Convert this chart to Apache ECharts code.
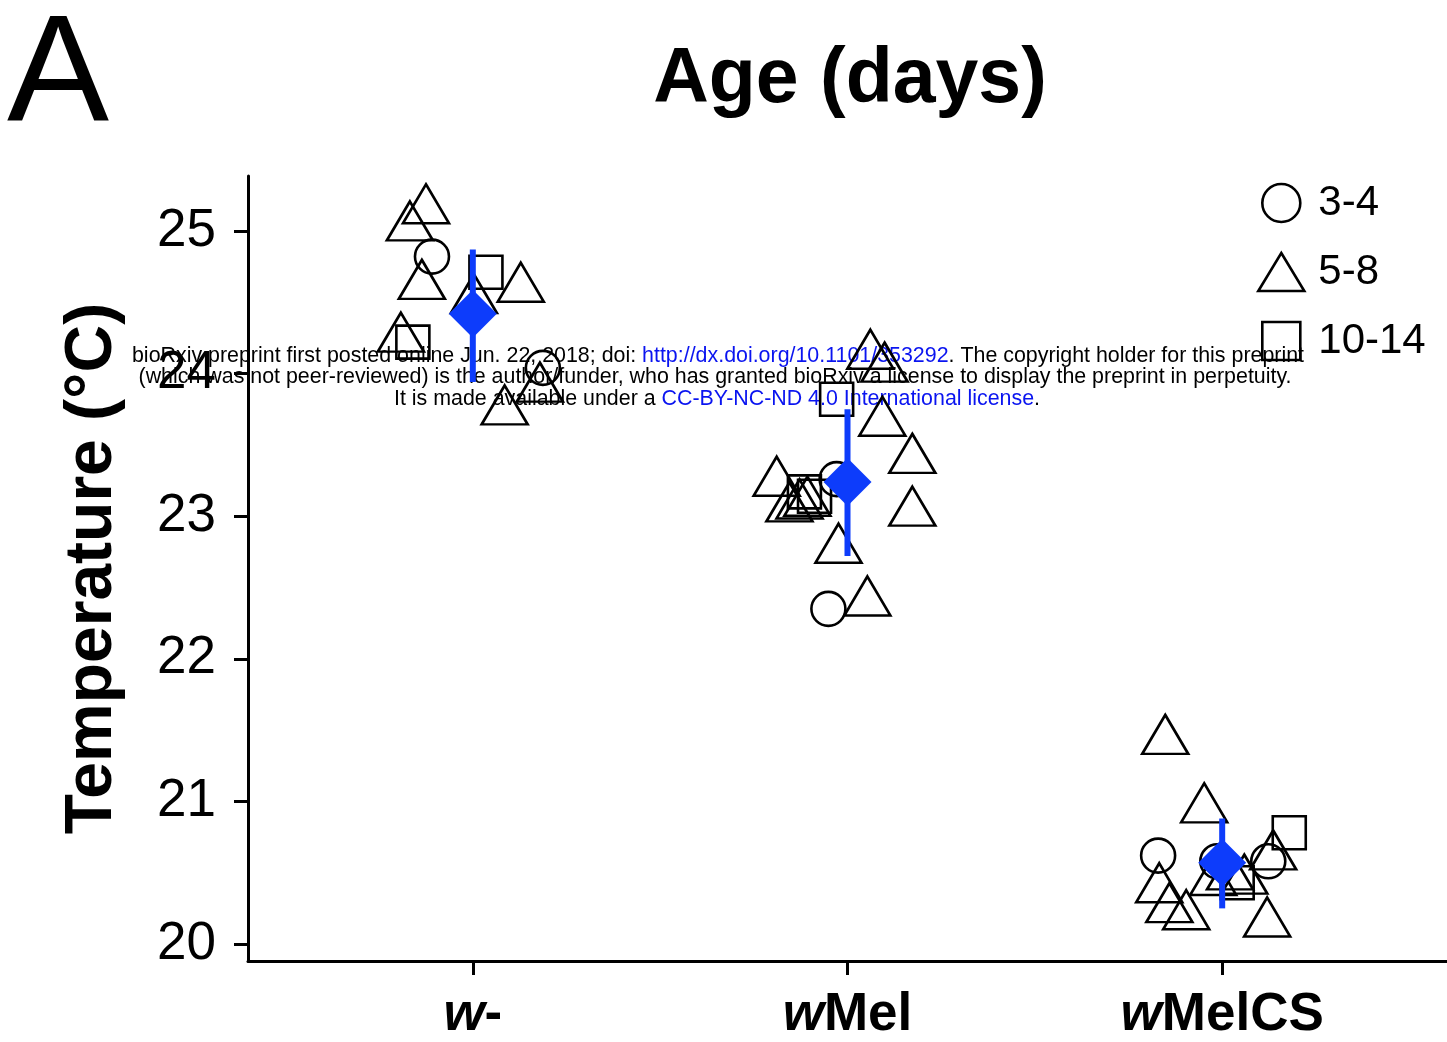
<!DOCTYPE html>
<html>
<head>
<meta charset="utf-8">
<script src="https://cdn.jsdelivr.net/npm/echarts@6/dist/echarts.min.js"></script>
<style>
  html, body { margin: 0; padding: 0; background: #fff; }
  #chart { width: 1447px; height: 1042px; }
</style>
</head>
<body>
<div id="chart"></div>
<script>
// groups on the x axis (1, 2, 3)
const groupNames = ['w-', 'wMel', 'wMelCS'];
const yTicks = [20, 21, 22, 23, 24, 25];
const xTicks = [1, 2, 3];

// [x jittered around group, temperature]
const age34 = [
  [0.891, 24.82], [1.187, 24.04],
  [1.971, 23.26], [1.949, 22.35],
  [3.123, 20.58], [2.829, 20.62], [2.987, 20.58],
];
const age58 = [
  [0.875, 25.19], [0.832, 25.07], [0.864, 24.66], [1.128, 24.64],
  [1.003, 24.56], [0.808, 24.29], [1.179, 23.94], [1.085, 23.78],
  [2.061, 24.17], [2.099, 24.08], [2.093, 23.70], [2.173, 23.44],
  [1.811, 23.28], [1.845, 23.10], [1.872, 23.12], [1.893, 23.14],
  [2.173, 23.07], [1.976, 22.81], [2.053, 22.44],
  [2.848, 21.47], [2.952, 20.99], [3.136, 20.66], [3.021, 20.52],
  [2.976, 20.48], [3.059, 20.49], [2.832, 20.43], [2.859, 20.29],
  [2.904, 20.24], [3.120, 20.19],
];
const age1014 = [
  [1.035, 24.71], [0.840, 24.22],
  [1.971, 23.82], [1.885, 23.17], [1.912, 23.14],
  [3.179, 20.78], [3.040, 20.43],
];
// group, mean, upper, lower
const means = [
  [1, 24.42, 24.87, 23.94],
  [2, 23.24, 23.75, 22.72],
  [3, 20.57, 20.88, 20.25],
];

const FONT = 'Liberation Sans';
const BLUE = '#0d3cfb';
const LINK = '#0a14f0';

const chart = echarts.init(document.getElementById('chart'), null, { renderer: 'canvas' });

const openStyle = {
  color: 'transparent',
  borderColor: '#000',
  borderWidth: 2.6,
  opacity: 1,
};

const noteRich = {
  k: { fontFamily: FONT, fontSize: 21.4, fill: '#000' },
  l: { fontFamily: FONT, fontSize: 21.4, fill: LINK },
};

chart.setOption({
  backgroundColor: '#fff',
  animation: false,
  textStyle: { fontFamily: FONT },
  title: [
    {
      text: 'A',
      left: 2,
      top: -3,
      textStyle: { fontFamily: FONT, fontSize: 153, fontWeight: 'normal', color: '#000' },
    },
    {
      text: 'Age (days)',
      left: 845,
      textAlign: 'center',
      top: 37,
      textStyle: { fontFamily: FONT, fontSize: 77, fontWeight: 'bold', color: '#000' },
    },
  ],
  legend: {
    orient: 'vertical',
    left: 1252,
    top: 177,
    itemWidth: 46,
    itemHeight: 38,
    itemGap: 27,
    data: [
      { name: '3-4', icon: 'circle' },
      { name: '5-8', icon: 'triangle' },
      { name: '10-14', icon: 'path://M0,0L1,0L1,1L0,1Z' },
    ],
    itemStyle: { color: 'transparent', borderColor: '#000', borderWidth: 2.6 },
    textStyle: { fontFamily: FONT, fontSize: 42, color: '#000', padding: [0, 0, 0, 9] },
  },
  grid: { left: 248, right: 0, top: 176, bottom: 80 },
  xAxis: {
    type: 'value',
    min: 0.4,
    max: 3.6,
    splitLine: { show: false },
    axisLine: { lineStyle: { color: '#000', width: 3 } },
    axisTick: {
      customValues: xTicks,
      length: 14,
      lineStyle: { color: '#000', width: 3 },
    },
    axisLabel: {
      customValues: xTicks,
      margin: 28,
      formatter: (v) => {
        const name = groupNames[Math.round(v) - 1] || '';
        return '{i|' + name.charAt(0) + '}{b|' + name.slice(1) + '}';
      },
      rich: {
        i: { fontFamily: FONT, fontSize: 53, fontWeight: 'bold', fontStyle: 'italic', color: '#000' },
        b: { fontFamily: FONT, fontSize: 53, fontWeight: 'bold', color: '#000' },
      },
    },
  },
  yAxis: {
    type: 'value',
    min: 19.881,
    max: 25.385,
    name: 'Temperature (°C)',
    nameLocation: 'middle',
    nameGap: 122,
    nameTextStyle: { fontFamily: FONT, fontSize: 66, fontWeight: 'bold', color: '#000' },
    splitLine: { show: false },
    axisLine: { lineStyle: { color: '#000', width: 3 } },
    axisTick: {
      customValues: yTicks,
      length: 14,
      lineStyle: { color: '#000', width: 3 },
    },
    axisLabel: {
      customValues: yTicks,
      margin: 32,
      fontFamily: FONT,
      fontSize: 53,
      color: '#000',
    },
  },
  series: [
    {
      name: '3-4',
      type: 'scatter',
      symbol: 'circle',
      symbolSize: 34,
      itemStyle: openStyle,
      data: age34,
    },
    {
      name: '5-8',
      type: 'scatter',
      symbol: 'triangle',
      symbolSize: [46, 39],
      itemStyle: openStyle,
      data: age58,
    },
    {
      name: '10-14',
      type: 'scatter',
      symbol: 'rect',
      symbolSize: 33,
      itemStyle: openStyle,
      data: age1014,
    },
    {
      type: 'custom',
      z: 5,
      data: means,
      renderItem: (params, api) => {
        const top = api.coord([api.value(0), api.value(2)]);
        const bottom = api.coord([api.value(0), api.value(3)]);
        return {
          type: 'line',
          shape: { x1: top[0], y1: top[1], x2: bottom[0], y2: bottom[1] },
          style: { stroke: BLUE, lineWidth: 6 },
        };
      },
    },
    {
      type: 'scatter',
      z: 6,
      symbol: 'diamond',
      symbolSize: 48,
      itemStyle: { color: BLUE, opacity: 1 },
      data: means.map((m) => [m[0], m[1]]),
    },
  ],
  graphic: [
    {
      type: 'group',
      z: 100,
      children: [
        {
          type: 'text',
          x: 718,
          y: 356,
          style: {
            text: '{k|bioRxiv preprint first posted online Jun. 22, 2018; doi: }{l|http://dx.doi.org/10.1101/353292}{k|. The copyright holder for this preprint}',
            align: 'center',
            verticalAlign: 'middle',
            rich: noteRich,
          },
        },
        {
          type: 'text',
          x: 715,
          y: 377,
          style: {
            text: '(which was not peer-reviewed) is the author/funder, who has granted bioRxiv a license to display the preprint in perpetuity.',
            align: 'center',
            verticalAlign: 'middle',
            fontFamily: FONT,
            fontSize: 21.4,
            fill: '#000',
          },
        },
        {
          type: 'text',
          x: 717,
          y: 399,
          style: {
            text: '{k|It is made available under a }{l|CC-BY-NC-ND 4.0 International license}{k|.}',
            align: 'center',
            verticalAlign: 'middle',
            rich: noteRich,
          },
        },
      ],
    },
  ],
});
</script>
</body>
</html>
